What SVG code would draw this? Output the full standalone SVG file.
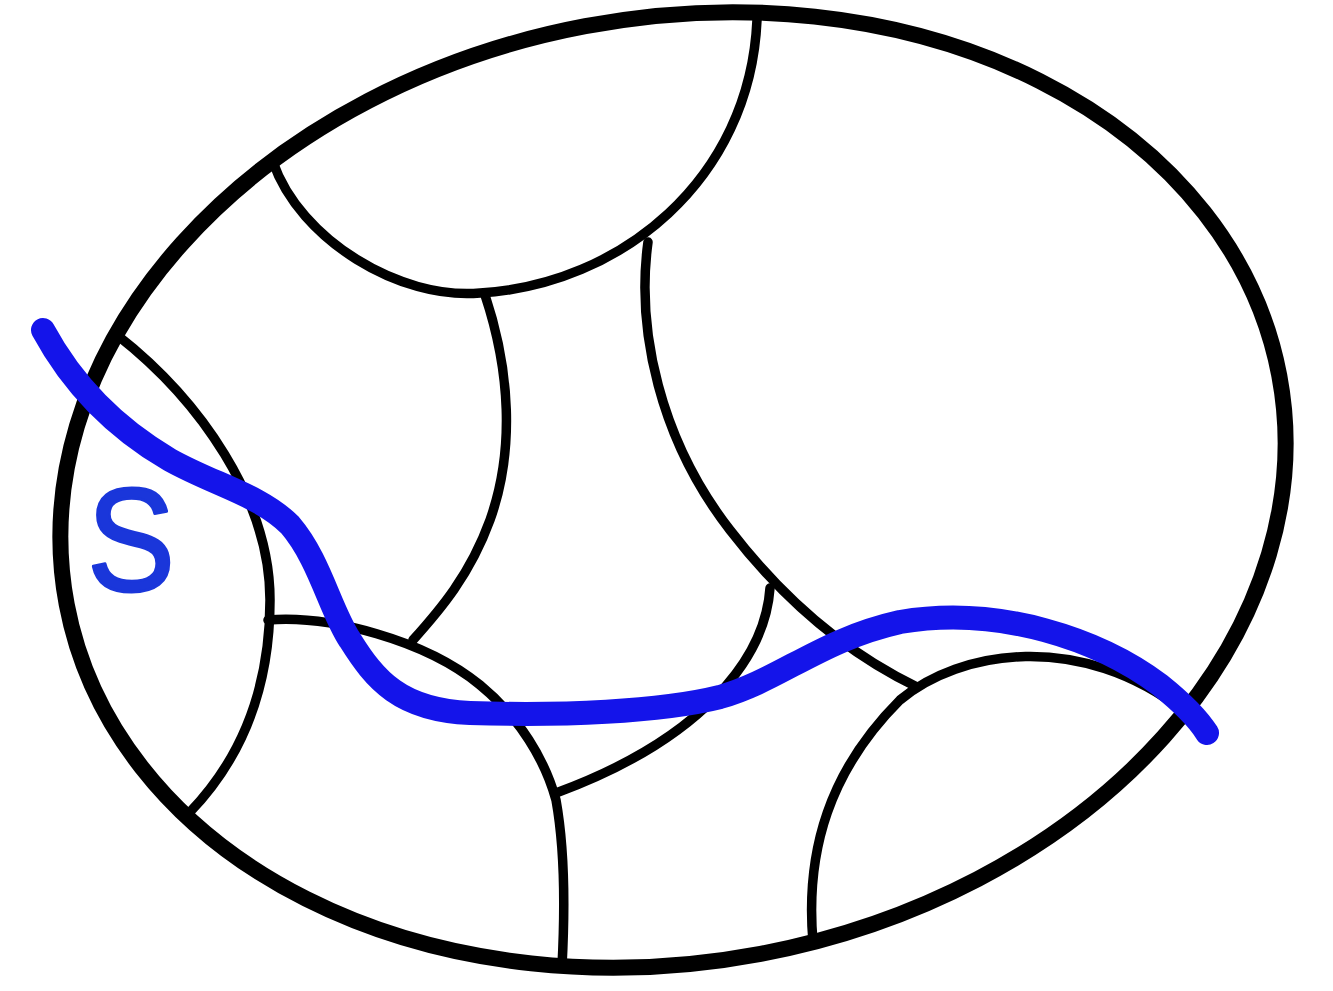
<svg xmlns="http://www.w3.org/2000/svg" width="1333" height="991" viewBox="0 0 1333 991">
  <style>
    .outer { fill: none; stroke: #000; stroke-width: 16; }
    .inner { fill: none; stroke: #000; stroke-width: 9.5; stroke-linecap: round; }
    .path-s { fill: none; stroke: #1414ea; stroke-width: 24; stroke-linecap: round; stroke-linejoin: round; }
    .label { font-family: "Liberation Sans", Arial, sans-serif; font-size: 146px; fill: #1a36da; stroke: #1a36da; stroke-width: 3; stroke-linejoin: round; }
  </style>
  <rect width="1333" height="991" fill="#fff"/>
  <g id="boundary">
    <ellipse class="outer" cx="673" cy="490" rx="617" ry="472" transform="rotate(-10.7 673 490)"/>
  </g>
  <g id="regions">
    <path id="top-cap" class="inner" d="M273,162 C300,240 400,300 480,293 C620,285 750,180 757,20"/>
    <path id="left-cap" class="inner" d="M117,335 C200,400 270,500 270,600 C270,690 240,760 190,812"/>
    <path id="center-left" class="inner" d="M485,295 C510,370 515,450 490,520 C470,575 440,610 413,640"/>
    <path id="center-right" class="inner" d="M648,242 C636,330 660,440 730,530 C780,595 840,650 917,687"/>
    <path id="lower-middle" class="inner" d="M268,620 C330,615 425,640 480,685 C520,718 545,760 556,800 C565,850 565,910 562,966"/>
    <path id="small-arc" class="inner" d="M770,588 C765,660 700,740 556,793"/>
    <path id="bottom-right-cap" class="inner" d="M813,942 C805,850 830,770 900,700 C960,650 1080,630 1185,712"/>
  </g>
  <g id="curve-s">
    <path class="path-s" d="M43,330 C70,380 110,425 170,460 C215,485 260,495 290,525 C320,560 330,610 350,640 C375,680 400,710 470,713 C560,716 660,712 720,697 C780,680 820,640 900,622 C1000,605 1100,640 1160,685 C1185,705 1200,722 1207,733"/>
    <text class="label" transform="translate(131,591) scale(0.9,1)" x="0" y="0" text-anchor="middle">S</text>
  </g>
</svg>
